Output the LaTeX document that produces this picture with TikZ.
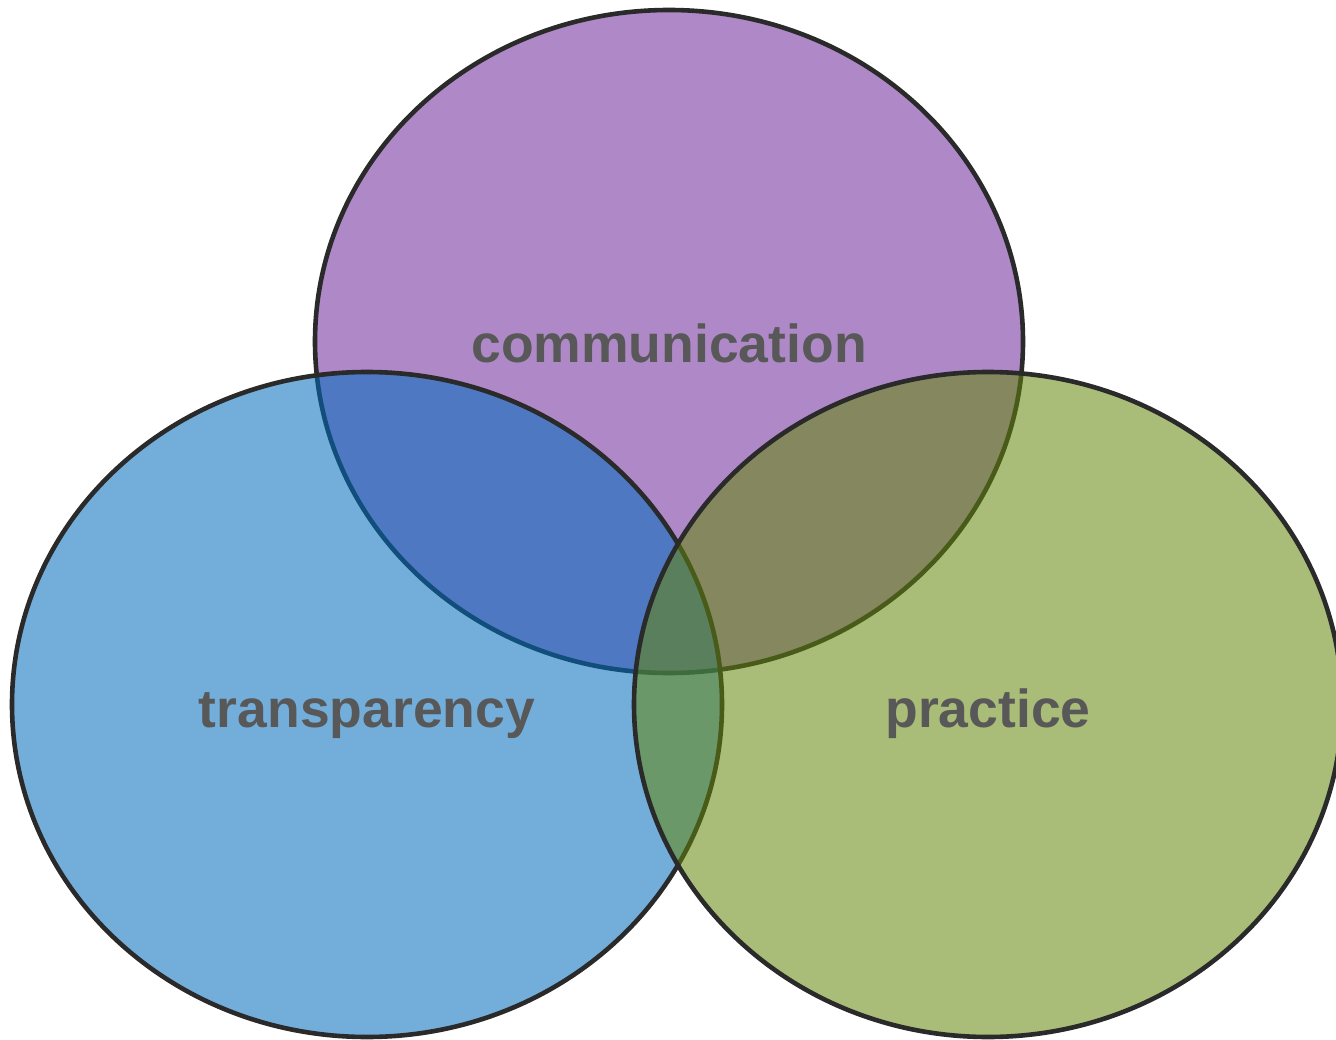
\documentclass[tikz,border=0pt]{standalone}
\usepackage{fontspec}
\setmainfont{Liberation Sans}
\begin{document}
\begin{tikzpicture}[x=1pt,y=-1pt]
\definecolor{cpurple}{RGB}{110,40,153}
\definecolor{cblue}{RGB}{0,108,190}
\definecolor{cgreen}{RGB}{99,133,10}
\definecolor{cline}{RGB}{42,42,42}
\definecolor{ctext}{RGB}{88,88,88}
\tikzset{
  venn/.style={draw=cline, line width=4.6pt, fill opacity=0.55},
  lbl/.style={text=ctext, font=\fontsize{53.5}{60}\selectfont\bfseries, anchor=base, inner sep=0pt}
}
\useasboundingbox (0,0) rectangle (1336,1040);
\begin{scope}
\clip (0,0) rectangle (1336,1040);
\path[venn, fill=cpurple] (669,341.5) ellipse [x radius=354, y radius=331.5];
\path[venn, fill=cblue] (367,704.5) ellipse [x radius=355, y radius=332.5];
\path[venn, fill=cgreen] (988,704.5) ellipse [x radius=354, y radius=332.5];
\end{scope}
\node[lbl] (comm) at (669,363) {communication};
\node[lbl] (trans) at (367,727) {transparency};
\node[lbl] (prac) at (988,727) {practice};
\end{tikzpicture}
\end{document}
